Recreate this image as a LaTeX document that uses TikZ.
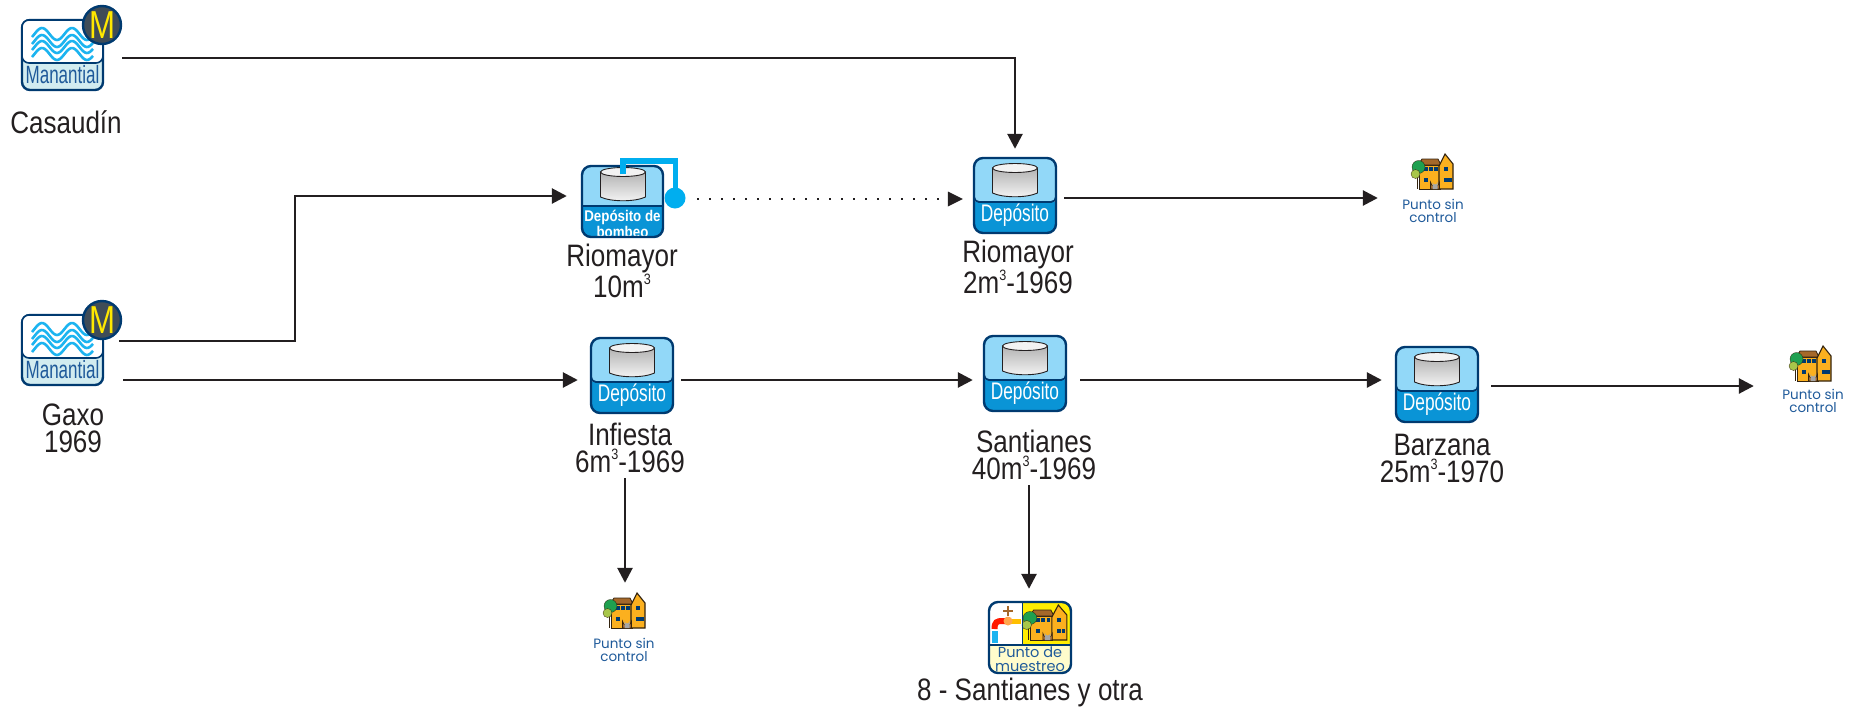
\documentclass[tikz,border=0pt]{standalone}
\usepackage{fontspec}
\usetikzlibrary{arrows.meta}
\setmainfont{Liberation Sans}
\newfontfamily\lblfont[FakeStretch=0.84]{Liberation Sans}
\newfontfamily\manfont[FakeStretch=0.68]{Liberation Sans}
\newfontfamily\depfont[FakeStretch=0.72]{Liberation Sans}
\newfontfamily\mfont[FakeStretch=0.80]{Liberation Sans}
\newfontfamily\bomfont[FakeStretch=0.86]{Liberation Sans Bold}
\newfontfamily\ptfont{Poppins}
\definecolor{navy}{HTML}{003A70}
\definecolor{skyb}{HTML}{92D8F8}
\definecolor{depb}{HTML}{0A94D6}
\definecolor{wave}{HTML}{1CB4F0}
\definecolor{pale}{HTML}{D2ECF0}
\definecolor{inkc}{HTML}{231F20}
\definecolor{txtb}{HTML}{1F5A9A}
\definecolor{pipeb}{HTML}{00AEEF}
\definecolor{hroof}{HTML}{A5682A}
\definecolor{hwall}{HTML}{FBB01F}
\definecolor{hline}{HTML}{33230F}
\definecolor{mdisc}{HTML}{3F4C57}
\definecolor{myell}{HTML}{FFE800}
\definecolor{treea}{HTML}{1FA050}
\definecolor{treeb}{HTML}{A8C64A}
\newcommand\cubed{\raisebox{13pt}{\fontsize{15}{15}\selectfont 3}}
\newcommand\tank[2]{%
  \path[draw=inkc,line width=.9pt,top color=black!30,bottom color=black!4]
    (#1-22.5,#2) -- (#1-22.5,#2+25) .. controls (#1-12,#2+30) and (#1+12,#2+30) .. (#1+22.5,#2+25) -- (#1+22.5,#2) -- cycle;
  \draw[inkc,line width=.9pt,fill=black!5] (#1,#2) ellipse[x radius=22.5,y radius=4.5];}
\newcommand\housebody{%
  \fill[hwall,draw=hline,line width=1pt] (7,11) rectangle (28,35);
  \fill[hroof,draw=hline,line width=.8pt] (6,11) -- (10,5) -- (26,5) -- (29,11) -- cycle;
  \fill[hwall,draw=hline,line width=1.1pt] (27,12) -- (33,0) -- (41,10) -- (41,35) -- (27,35) -- cycle;
  \foreach \a/\b in {12/13,17/13,22/13,12/24,32/13,32/24,36/24}{\fill[navy] (\a,\b) rectangle +(3.6,3.6);}
  \fill[hroof,draw=hline,line width=.6pt] (18.5,35) -- (18.5,28) arc[start angle=180,end angle=0,radius=4.5] -- (27.5,35) -- cycle;
  \fill[black!35] (20.5,35) -- (20.5,28) arc[start angle=180,end angle=0,radius=2.5] -- (25.5,35) -- cycle;
  \draw[hline,line width=1pt] (5,20) -- (5,35);
  \fill[treea,draw=hline,line width=.3pt] (6.5,13) circle[radius=6.5];
  \fill[treeb,draw=hline,line width=.3pt] (3.5,20) circle[radius=4.5];}
\tikzset{
  flow/.style={draw=inkc,line width=2.7pt,-{Triangle[length=15pt,width=15pt]}},
  dotflow/.style={draw=inkc,line width=2pt,dash pattern=on 2pt off 10pt,-{Triangle[length=15pt,width=15pt,line width=0pt]}},
  lbl/.style={inner sep=0pt,text=inkc,align=center,font=\lblfont\fontsize{31}{27}\selectfont},
  ptxt/.style={inner sep=0pt,text=txtb,align=center,font=\ptfont\fontsize{13.5}{13.5}\selectfont},
  manantial/.pic={
    \draw[navy,line width=2.4pt,fill=pale,rounded corners=8pt] (0,0) rectangle (81,70);
    \draw[navy,line width=1.6pt,fill=white,rounded corners=7pt] (0,0) rectangle (81,43);
    \foreach \c in {14,21,27,34}{\draw[wave,line width=2.6pt] plot[domain=10:71,samples=40] (\x,{\c-6*cos(12*(\x-20))});}
    \node[inner sep=0pt,text=txtb,font=\manfont\fontsize{25}{25}\selectfont] at (40.5,55) {Manantial};
    \fill[mdisc,draw=navy,line width=2.4pt] (80,5) circle[radius=19];
    \node[inner sep=0pt,text=myell,font=\mfont\fontsize{39}{39}\selectfont] at (80,5) {M};
    \node[inner sep=0pt,minimum width=81pt,minimum height=70pt] (-box) at (40.5,35) {};
  },
  deposito/.pic={
    \begin{scope}
      \clip[rounded corners=9pt] (0,0) rectangle (82,75);
      \fill[skyb] (0,0) rectangle (82,44);
      \fill[depb] (0,44) rectangle (82,75);
    \end{scope}
    \draw[navy,line width=1.8pt,rounded corners=5pt] (0,36) -- (0,44) -- (82,44) -- (82,36);
    \tank{41}{10}
    \node[inner sep=0pt,text=white,font=\depfont\fontsize{24}{24}\selectfont] at (41,57) {Depósito};
    \node[draw=navy,line width=2.4pt,rounded corners=9pt,inner sep=0pt,minimum width=82pt,minimum height=75pt] (-box) at (41,37.5) {};
  },
  bombeo/.pic={
    \begin{scope}
      \clip[rounded corners=9pt] (0,0) rectangle (81,71);
      \fill[skyb] (0,0) rectangle (81,41);
      \fill[depb] (0,41) rectangle (81,71);
      \tank{41}{6}
      \node[inner sep=0pt,text=white,align=center,font=\bomfont\fontsize{15.5}{16}\selectfont] at (40.5,58) {Depósito de\\bombeo};
    \end{scope}
    \draw[navy,line width=1.2pt] (0,40) -- (81,40);
    \node[draw=navy,line width=2.4pt,rounded corners=9pt,inner sep=0pt,minimum width=81pt,minimum height=71pt] (-box) at (40.5,35.5) {};
    \draw[pipeb,line width=5.5pt] (41,8) -- (41,-5) -- (93.5,-5) -- (93.5,30);
    \fill[pipeb] (93,32) circle[radius=10.5];
  },
  casa/.pic={
    \housebody
    \node[inner sep=0pt,minimum width=41pt,minimum height=36pt] (-box) at (20.5,18) {};
  },
  muestreo/.pic={
    \begin{scope}
      \clip[rounded corners=9pt] (0,0) rectangle (82,71);
      \fill[yellow!20] (0,43) rectangle (82,71);
      \fill[white] (0,0) rectangle (33,43);
      \fill[yellow!95!orange] (33,0) rectangle (82,43);
      \begin{scope}[shift={(34,3)},x=1.07pt,y=-1.0pt]
        \housebody
      \end{scope}
      \draw[hroof,line width=2pt] (19,4) -- (19,14) (14,8.5) -- (24,8.5);
      \draw[red!80!orange,line width=6pt] (5.5,27) .. controls (5.5,20) and (8,19) .. (13,19) -- (18,19);
      \draw[orange!50!yellow,line width=5pt] (18,19) -- (32,19);
      \fill[orange!70!white] (19,19) circle[radius=4.5];
      \fill[wave] (3,29) rectangle (9,41);
      \node[inner sep=0pt,text=txtb,align=center,font=\ptfont\fontsize{14.5}{13.5}\selectfont] at (41,57) {Punto de\\muestreo};
    \end{scope}
    \draw[navy,line width=1.4pt] (0,43) -- (82,43);
    \draw[navy,line width=.8pt] (33,0) -- (33,43);
    \node[draw=navy,line width=2.4pt,rounded corners=9pt,inner sep=0pt,minimum width=82pt,minimum height=71pt] (-box) at (41,35.5) {};
  }
}
\begin{document}
\begin{tikzpicture}[x=1pt,y=-1pt]
\useasboundingbox (0,0) rectangle (1861,710);
\pic (man1) at (22,20) {manantial};
\pic (man2) at (22,315) {manantial};
\pic (bomb) at (582,166) {bombeo};
\pic (riod) at (974,158) {deposito};
\pic (infi) at (591,338) {deposito};
\pic (sant) at (984,336) {deposito};
\pic (barz) at (1396,347) {deposito};
\pic (h1) at (1412,154) {casa};
\pic (h2) at (1790,346) {casa};
\pic (h3) at (604,593) {casa};
\pic (mues) at (989,602) {muestreo};

\node[lbl] (l1) at (66,122) {Casaudín};
\node[lbl] (l2) at (73,428) {Gaxo\\1969};
\node[lbl] (l3) at (622,271) {Riomayor\\10m\cubed};
\node[lbl] (l4) at (1018,267) {Riomayor\\2m\cubed-1969};
\node[lbl] (l5) at (630,448) {Infiesta\\6m\cubed-1969};
\node[lbl] (l6) at (1034,455) {Santianes\\40m\cubed-1969};
\node[lbl] (l7) at (1442,458) {Barzana\\25m\cubed-1970};
\node[lbl] (l8) at (1030,692) {8 - Santianes y otra};
\node[ptxt] (p1) at (1433,211) {Punto sin\\control};
\node[ptxt] (p2) at (1813,401) {Punto sin\\control};
\node[ptxt] (p3) at (624,650) {Punto sin\\control};

\coordinate (bend) at (295,196);
\draw[flow] ([shift={(19,3)}]man1-box.east) -| ([shift={(0,-8)}]riod-box.north);
\draw[flow] ([shift={(16,-9)}]man2-box.east) -| (bend) -- ([shift={(-14,-5.5)}]bomb-box.west);
\draw[flow] ([shift={(20,30)}]man2-box.east) -- ([shift={(-12,4.5)}]infi-box.west);
\draw[dotflow] ([shift={(33,-2.5)}]bomb-box.east) -- ([shift={(-10,3.5)}]riod-box.west);
\draw[flow] ([shift={(7,2.5)}]riod-box.east) -- ([shift={(-34,26)}]h1-box.west);
\draw[flow] ([shift={(7,4.5)}]infi-box.east) -- ([shift={(-10,6.5)}]sant-box.west);
\draw[flow] ([shift={(13,6.5)}]sant-box.east) -- ([shift={(-13,-4.5)}]barz-box.west);
\draw[flow] ([shift={(12,1.5)}]barz-box.east) -- ([shift={(-36,22)}]h2-box.west);
\draw[flow] ([shift={(-7,64)}]infi-box.south) -- ([shift={(0.5,-10)}]h3-box.north);
\draw[flow] ([shift={(4,73)}]sant-box.south) -- ([shift={(-1,-12)}]mues-box.north);
\end{tikzpicture}
\end{document}
